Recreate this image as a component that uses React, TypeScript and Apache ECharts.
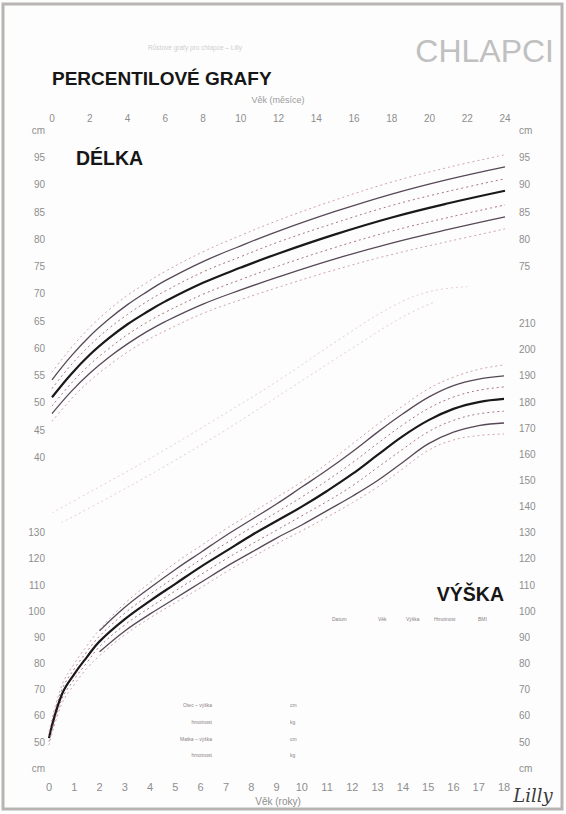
import React, { useEffect, useRef } from "react";
import * as echarts from "echarts";

// DÉLKA (length) 0–24 months
const monthsD = [0, 1, 2, 3, 4, 5, 6, 8, 10, 12, 15, 18, 21, 24];
const delkaP97 = [55.6, 60.0, 63.8, 67.0, 69.7, 72.0, 74.1, 77.7, 80.7, 83.5, 87.2, 90.5, 93.2, 95.5];
const delkaP90 = [54.2, 58.5, 62.2, 65.3, 68.0, 70.3, 72.4, 75.9, 78.8, 81.5, 85.1, 88.3, 91.0, 93.3];
const delkaP75 = [52.6, 56.9, 60.5, 63.6, 66.2, 68.5, 70.5, 74.0, 76.8, 79.5, 83.0, 86.2, 88.8, 91.1];
const delkaP50 = [51.0, 55.2, 58.8, 61.8, 64.4, 66.6, 68.6, 72.0, 74.8, 77.4, 80.9, 84.0, 86.6, 88.9];
const delkaP25 = [49.4, 53.5, 57.0, 59.9, 62.5, 64.7, 66.6, 69.9, 72.6, 75.1, 78.5, 81.5, 84.0, 86.3];
const delkaP10 = [48.0, 52.0, 55.4, 58.3, 60.8, 63.0, 64.9, 68.1, 70.7, 73.1, 76.4, 79.3, 81.8, 84.1];
const delkaP3 = [46.6, 50.6, 54.0, 56.8, 59.3, 61.4, 63.2, 66.4, 68.9, 71.2, 74.4, 77.2, 79.6, 81.9];

// faint show-through band (months, cm on the DÉLKA scale)
const bandAMonths = [0, 2, 5, 8.5, 12, 15.3, 18, 20, 22];
const bandAValues = [29.8, 33.6, 39.4, 46.6, 54.1, 61.8, 67.6, 70.4, 71.3];
const bandBMonths = [0.5, 2.8, 5.8, 9.2, 12.6, 15.9, 18.5, 20.2];
const bandBValues = [28.0, 32.2, 38.0, 45.0, 52.6, 60.0, 65.6, 68.4];

// VÝŠKA (height) 0–18 years
const yearsV = [0, 0.5, 1, 1.5, 2, 3, 4, 5, 6, 7, 8, 9, 10, 11, 12, 13, 14, 15, 16, 17, 18];
const vyskaP97 = [54, 71.5, 80, 86.8, 93, 103, 111, 118.5, 125, 131.5, 137.5, 143.5, 149.5, 156.5, 164, 171.5, 178.5, 185, 189.5, 192.5, 194.2];
const vyskaP75 = [52.8, 69.8, 78, 84.6, 90.5, 99.3, 106.5, 113.2, 119.8, 126, 132, 137.8, 143.7, 150, 156.8, 164.2, 171.3, 177.5, 181.9, 184.5, 185.8];
const vyskaP50 = [51.5, 68, 76, 82.5, 88.5, 97, 104, 110.5, 117, 123, 129, 134.5, 140, 146, 152.5, 159.8, 167, 173, 177.4, 180, 181.2];
const vyskaP25 = [50.2, 66.2, 74, 80.4, 86.5, 94.8, 101.5, 107.8, 114, 120, 125.6, 131, 136.5, 142, 148, 155, 162, 168.6, 173, 175.5, 176.5];
const vyskaP3 = [48.8, 64.5, 72, 78.2, 83, 91, 97.5, 103.3, 109, 115, 120.5, 125.8, 130.8, 136, 141.5, 147.5, 154.5, 161.5, 165.5, 167.2, 167.8];
const yearsV2 = [2, 3, 4, 5, 6, 7, 8, 9, 10, 11, 12, 13, 14, 15, 16, 17, 18];
const vyskaP90 = [92.5, 101.5, 109, 116, 122.5, 129, 135, 141, 147.5, 154, 161, 168.5, 175.5, 181.8, 186.3, 188.8, 190];
const vyskaP10 = [84.5, 92.5, 99, 105, 111, 117, 122.5, 128, 133, 138.5, 144, 150, 157, 164, 168.5, 171, 172];

const LABEL = "#8e8e8e";
const FONT = "Liberation Sans, Arial, sans-serif";

function pts(xs: number[], ys: number[]) {
  return xs.map((x, i) => [x, ys[i]]);
}

function line(name: string, xs: number[], ys: number[], idx: number, style: any) {
  return {
    name,
    type: "line",
    xAxisIndex: idx,
    yAxisIndex: idx === 0 ? 0 : 2,
    data: pts(xs, ys),
    smooth: 0.4,
    symbol: "none",
    silent: true,
    lineStyle: style,
  };
}

const solid = { color: "#574857", width: 1.3, type: "solid" };
const bold = { color: "#1a181a", width: 2.2, type: "solid" };
const dotIn = { color: "#a97583", width: 1, type: [2, 3] };
const dotOut = { color: "#cfa2ad", width: 1, type: [2, 3] };
const faint = { color: "#e8cdd3", width: 1, type: [2, 3] };

export default function App() {
  const ref = useRef<HTMLDivElement>(null);
  useEffect(() => {
    if (!ref.current) return;
    const chart = echarts.init(ref.current, undefined, { renderer: "svg" });
    const lbl = { color: LABEL, fontSize: 10, fontFamily: FONT };
    const smallTxt = (x: number, y: number, t: string, align = "left") => ({
      type: "text",
      x,
      y,
      style: { text: t, fontSize: 5, fill: "#8a7f86", fontFamily: FONT, align, verticalAlign: "middle" },
      silent: true,
    });
    chart.setOption({
      animation: false,
      backgroundColor: "#fdfdfd",
      grid: [
        { left: 52, top: 130.25, width: 453, height: 408.75 },
        { left: 49, top: 323.6, width: 455, height: 444.6 },
      ],
      xAxis: [
        {
          type: "value", gridIndex: 0, position: "top", min: 0, max: 24, interval: 2,
          axisLine: { show: false }, axisTick: { show: false }, splitLine: { show: false },
          axisLabel: { ...lbl, margin: 7 },
        },
        {
          type: "value", gridIndex: 1, position: "bottom", min: 0, max: 18, interval: 1,
          axisLine: { show: false }, axisTick: { show: false }, splitLine: { show: false },
          axisLabel: { ...lbl, fontSize: 11, margin: 13 },
        },
      ],
      yAxis: [
        {
          type: "value", gridIndex: 0, position: "left", min: 25, max: 100, interval: 5,
          axisLine: { show: false }, axisTick: { show: false }, splitLine: { show: false },
          axisLabel: {
            ...lbl, margin: 7,
            formatter: (v: number) => (v === 100 ? "cm" : v >= 40 && v <= 95 ? String(v) : ""),
          },
        },
        {
          type: "value", gridIndex: 0, position: "right", min: 25, max: 100, interval: 5,
          axisLine: { show: false }, axisTick: { show: false }, splitLine: { show: false },
          axisLabel: {
            ...lbl, margin: 14,
            formatter: (v: number) => (v === 100 ? "cm" : v >= 75 && v <= 95 ? String(v) : ""),
          },
        },
        {
          type: "value", gridIndex: 1, position: "left", min: 40, max: 210, interval: 10,
          axisLine: { show: false }, axisTick: { show: false }, splitLine: { show: false },
          axisLabel: {
            ...lbl, margin: 4,
            formatter: (v: number) => (v === 40 ? "cm" : v <= 130 ? String(v) : ""),
          },
        },
        {
          type: "value", gridIndex: 1, position: "right", min: 40, max: 210, interval: 10,
          axisLine: { show: false }, axisTick: { show: false }, splitLine: { show: false },
          axisLabel: {
            ...lbl, margin: 15,
            formatter: (v: number) => (v === 40 ? "cm" : String(v)),
          },
        },
      ],
      series: [
        line("pasA", bandAMonths, bandAValues, 0, faint),
        line("pasB", bandBMonths, bandBValues, 0, faint),
        line("D97", monthsD, delkaP97, 0, dotOut),
        line("D90", monthsD, delkaP90, 0, solid),
        line("D75", monthsD, delkaP75, 0, dotIn),
        line("D50", monthsD, delkaP50, 0, bold),
        line("D25", monthsD, delkaP25, 0, dotIn),
        line("D10", monthsD, delkaP10, 0, solid),
        line("D3", monthsD, delkaP3, 0, dotOut),
        line("V97", yearsV, vyskaP97, 1, dotOut),
        line("V90", yearsV2, vyskaP90, 1, solid),
        line("V75", yearsV, vyskaP75, 1, dotIn),
        line("V50", yearsV, vyskaP50, 1, bold),
        line("V25", yearsV, vyskaP25, 1, dotIn),
        line("V10", yearsV2, vyskaP10, 1, solid),
        line("V3", yearsV, vyskaP3, 1, dotOut),
      ],
      graphic: [
        {
          type: "rect", shape: { x: 3, y: 4, width: 559, height: 805 }, silent: true, z: -10,
          style: { fill: "none", stroke: "#b9b4b4", lineWidth: 3 },
        },
        {
          type: "text", x: 195, y: 47, silent: true,
          style: { text: "Růstové grafy pro chlapce – Lilly", fontSize: 6.5, fill: "#cfcfcf", fontFamily: FONT, align: "center", verticalAlign: "middle" },
        },
        {
          type: "text", x: 554, y: 51, silent: true,
          style: { text: "CHLAPCI", fontSize: 32, fill: "#c0c0c0", fontFamily: FONT, align: "right", verticalAlign: "middle" },
        },
        {
          type: "text", x: 52, y: 78, silent: true,
          style: { text: "PERCENTILOVÉ GRAFY", fontSize: 19, fontWeight: "bold", fill: "#161616", fontFamily: FONT, verticalAlign: "middle" },
        },
        {
          type: "text", x: 278, y: 100, silent: true,
          style: { text: "Věk (měsíce)", fontSize: 9, fill: "#9a9a9a", fontFamily: FONT, align: "center", verticalAlign: "middle" },
        },
        {
          type: "text", x: 76, y: 158, silent: true,
          style: { text: "DÉLKA", fontSize: 19.5, fontWeight: "bold", fill: "#161616", fontFamily: FONT, verticalAlign: "middle" },
        },
        {
          type: "text", x: 504, y: 594, silent: true,
          style: { text: "VÝŠKA", fontSize: 19.5, fontWeight: "bold", fill: "#161616", fontFamily: FONT, align: "right", verticalAlign: "middle" },
        },
        smallTxt(332, 619, "Datum"),
        smallTxt(378, 619, "Věk"),
        smallTxt(406, 619, "Výška"),
        smallTxt(434, 619, "Hmotnost"),
        smallTxt(478, 619, "BMI"),
        smallTxt(212, 705, "Otec – výška", "right"),
        smallTxt(290, 705, "cm"),
        smallTxt(212, 722, "hmotnost", "right"),
        smallTxt(290, 722, "kg"),
        smallTxt(212, 739, "Matka – výška", "right"),
        smallTxt(290, 739, "cm"),
        smallTxt(212, 755, "hmotnost", "right"),
        smallTxt(290, 755, "kg"),
        {
          type: "text", x: 278, y: 801, silent: true,
          style: { text: "Věk (roky)", fontSize: 10, fill: "#8e8e8e", fontFamily: FONT, align: "center", verticalAlign: "middle" },
        },
        {
          type: "text", x: 533, y: 795, silent: true,
          style: { text: "Lilly", fontSize: 18, fontStyle: "italic", fill: "#3c3c3c", fontFamily: "DejaVu Serif, serif", align: "center", verticalAlign: "middle" },
        },
      ],
    });
    return () => chart.dispose();
  }, []);
  return (
    <div
      ref={ref}
      style={{ position: "fixed", left: 0, top: 0, width: 566, height: 814 }}
    />
  );
}
